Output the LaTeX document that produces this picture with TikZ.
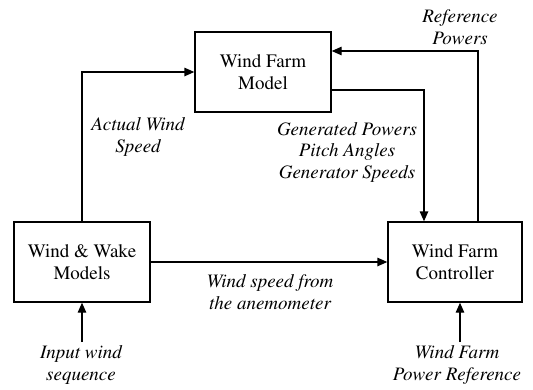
\documentclass[tikz,border=0pt]{standalone}
\usepackage[T1]{fontenc}
\renewcommand{\rmdefault}{ptm}
\usetikzlibrary{arrows.meta}
\begin{document}
\begin{tikzpicture}[x=1pt,y=-1pt,
  blk/.style={draw, line width=1.4pt, minimum height=80pt, align=center, inner sep=0pt,
    font=\fontsize{19}{21.5}\selectfont},
  lbl/.style={align=center, inner sep=0pt, font=\fontsize{19}{21.5}\selectfont\itshape},
  conn/.style={line width=1.4pt, -{Triangle[length=10pt,width=8.5pt]}}]
\useasboundingbox (0,0) rectangle (533,389);
\node[blk, minimum width=136pt] (model) at (263,72) {Wind Farm\\Model};
\node[blk, minimum width=136pt] (wake) at (82,262) {Wind \& Wake\\Models};
\node[blk, minimum width=134pt] (ctrl) at (455,262) {Wind Farm\\Controller};
\coordinate (in1) at (82,342);
\coordinate (in2) at (460,342);
\draw[conn] (wake.north) |- (model.west);
\draw[conn] ([xshift=23pt]ctrl.north) |- ([yshift=21pt]model.east);
\draw[conn] ([yshift=-18pt]model.east) -| ([xshift=-31pt]ctrl.north);
\draw[conn] (wake.east) -- (ctrl.west);
\draw[conn] (in1) -- (wake.south);
\draw[conn] (in2) -- ([xshift=5pt]ctrl.south);
\node[lbl] (l1) at (460,27) {Reference\\Powers};
\node[lbl] (l2) at (138,137) {Actual Wind\\Speed};
\node[lbl] (l3) at (347,152) {Generated Powers\\Pitch Angles\\Generator Speeds};
\node[lbl] (l4) at (270,292) {Wind speed from\\the anemometer};
\node[lbl] (l5) at (81,365) {Input wind\\sequence};
\node[lbl] (l6) at (457,365) {Wind Farm\\Power Reference};
\end{tikzpicture}
\end{document}
